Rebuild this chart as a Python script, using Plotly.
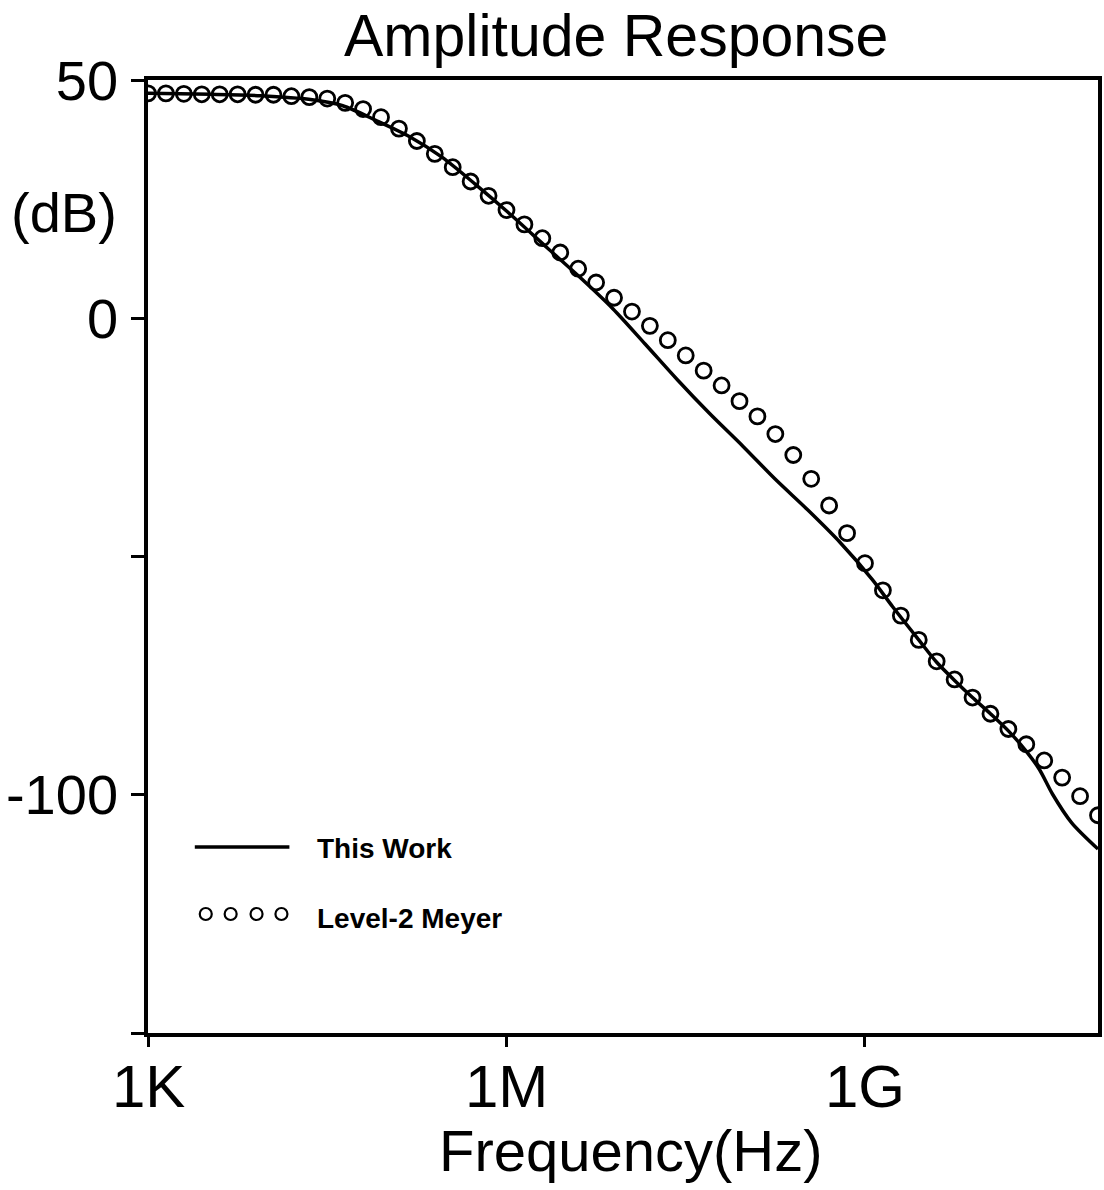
import math
import plotly.graph_objects as go

# ---------------- data ----------------
# Level-2 Meyer (open circles): log10(frequency / Hz) and amplitude in dB
meyer_log_freq = [3.00, 3.15, 3.30, 3.45, 3.60, 3.75, 3.90, 4.05, 4.20, 4.35,
                  4.50, 4.65, 4.80, 4.95, 5.10, 5.25, 5.40, 5.55, 5.70, 5.85,
                  6.00, 6.15, 6.30, 6.45, 6.60, 6.75, 6.90, 7.05, 7.20, 7.35,
                  7.50, 7.65, 7.80, 7.95, 8.10, 8.25, 8.40, 8.55, 8.70, 8.85,
                  9.00, 9.15, 9.30, 9.45, 9.60, 9.75, 9.90, 10.05, 10.20, 10.35,
                  10.50, 10.65, 10.80, 10.95]
meyer_db = [47.2, 47.2, 47.1, 47.0, 47.0, 47.0, 46.9, 46.9, 46.6, 46.4,
            46.1, 45.2, 43.9, 42.2, 39.8, 37.2, 34.5, 31.7, 28.7, 25.7,
            22.7, 19.7, 16.8, 13.8, 10.4, 7.5, 4.3, 1.4, -1.6, -4.6,
            -7.8, -11.0, -14.1, -17.4, -20.6, -24.3, -28.7, -33.7, -39.3, -45.1,
            -51.4, -57.1, -62.4, -67.5, -72.0, -75.8, -79.6, -83.0, -86.2, -89.4,
            -92.8, -96.4, -100.3, -104.3]

# This Work (solid line)
work_log_freq = [3.00, 3.53, 3.94, 4.36, 4.63, 4.91, 5.19, 5.46, 5.74, 6.01,
                 6.34, 6.61, 6.89, 7.16, 7.43, 7.70, 7.98, 8.25, 8.52, 8.79,
                 9.06, 9.23, 9.45, 9.60, 9.75, 9.90, 10.05, 10.20, 10.35, 10.46,
                 10.57, 10.73, 10.95]
work_db = [47.2, 47.0, 46.7, 45.9, 44.6, 41.5, 38.1, 33.8, 28.1, 22.3,
           14.8, 8.7, 2.0, -5.4, -12.9, -20.0, -26.9, -33.8, -40.2, -47.0,
           -54.8, -60.5, -67.5, -72.2, -76.0, -79.6, -83.0, -86.6, -90.9, -94.7,
           -99.9, -105.9, -111.4]

x_tick_vals = [1e3, 1e6, 1e9]
x_tick_text = ["1K", "1M", "1G"]
y_tick_vals = [50, 0, -50, -100, -150]
y_tick_text = ["50", "0", "", "-100", ""]

series_names = ["This Work", "Level-2 Meyer"]
title_text = "Amplitude Response"
x_title = "Frequency(Hz)"
y_unit = "(dB)"

# ---------------- figure ----------------
W, H = 1104, 1190
ML, MR, MT, MB = 148, 2, 80, 157
PW, PH = W - ML - MR, H - MT - MB


def px_x(p):
    return (p - ML) / PW


def px_y(p):
    return (H - MB - p) / PH


FONT = "Liberation Sans, Arial, sans-serif"

fig = go.Figure()
fig.add_trace(go.Scatter(
    x=[10 ** v for v in work_log_freq], y=work_db, mode="lines",
    line=dict(color="black", width=3.5, shape="spline", smoothing=0.8),
    name=series_names[0], showlegend=False))
fig.add_trace(go.Scatter(
    x=[10 ** v for v in meyer_log_freq], y=meyer_db, mode="markers",
    marker=dict(symbol="circle-open", size=15, color="black",
                line=dict(color="black", width=2.8)),
    name=series_names[1], showlegend=False))

fig.update_layout(
    width=W, height=H,
    margin=dict(l=ML, r=MR, t=MT, b=MB, pad=0),
    paper_bgcolor="white", plot_bgcolor="white",
    showlegend=False,
    font=dict(family=FONT, color="black"),
)

fig.update_xaxes(
    type="log", range=[3, 10.95],
    tickvals=x_tick_vals, showticklabels=False,
    ticks="outside", ticklen=10, tickwidth=3, tickcolor="black",
    showline=True, linewidth=3.5, linecolor="black", mirror=True,
    showgrid=False, zeroline=False,
)
fig.update_yaxes(
    range=[-150, 50],
    tickvals=y_tick_vals, ticktext=y_tick_text,
    ticks="outside", ticklen=13, tickwidth=3, tickcolor="black",
    tickfont=dict(family=FONT, size=56, color="black"),
    ticklabelstandoff=2,
    showline=True, linewidth=3.5, linecolor="black", mirror=True,
    showgrid=False, zeroline=False,
)

annotations = [
    dict(text=title_text, x=px_x(618), y=px_y(36), xref="paper", yref="paper",
         xanchor="center", yanchor="middle", showarrow=False,
         font=dict(family=FONT, size=59, color="black")),
    dict(text=x_title, x=px_x(633), y=px_y(1150), xref="paper", yref="paper",
         xanchor="center", yanchor="middle", showarrow=False,
         font=dict(family=FONT, size=58, color="black")),
    dict(text=y_unit, x=px_x(64), y=px_y(212), xref="paper", yref="paper",
         xanchor="center", yanchor="middle", showarrow=False,
         font=dict(family=FONT, size=56, color="black")),
    dict(text="<b>" + series_names[0] + "</b>", x=px_x(316), y=px_y(848),
         xref="paper", yref="paper", xanchor="left", yanchor="middle",
         showarrow=False, font=dict(family=FONT, size=28, color="black")),
    dict(text="<b>" + series_names[1] + "</b>", x=px_x(316), y=px_y(918),
         xref="paper", yref="paper", xanchor="left", yanchor="middle",
         showarrow=False, font=dict(family=FONT, size=28, color="black")),
]
# x tick labels placed just under the axis (log axis: annotation x in log10 units)
for v, t in zip(x_tick_vals, x_tick_text):
    annotations.append(dict(text=t, x=math.log10(v), xref="x", y=px_y(1086),
                            yref="paper", xanchor="center", yanchor="middle",
                            showarrow=False,
                            font=dict(family=FONT, size=60, color="black")))
fig.update_layout(annotations=annotations)

shapes = [dict(type="line", xref="paper", yref="paper",
               x0=px_x(195), x1=px_x(290), y0=px_y(847), y1=px_y(847),
               line=dict(color="black", width=3.5))]
for cx in [206, 231, 257, 282]:
    shapes.append(dict(type="circle", xref="paper", yref="paper",
                       xsizemode="pixel", ysizemode="pixel",
                       xanchor=px_x(cx), yanchor=px_y(914),
                       x0=-6, x1=6, y0=-6, y1=6,
                       line=dict(color="black", width=2.2)))
fig.update_layout(shapes=shapes)

fig.write_html("out.html")
